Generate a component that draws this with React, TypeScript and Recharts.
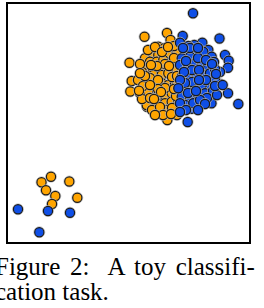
import { ReferenceArea, Scatter, ScatterChart, XAxis, YAxis } from "recharts";

// toy classification: two classes, big overlapping blob top-right + small group bottom-left
const orangeX = [
  34.5, 44, 62.3, 39, 48.3, 70.3, 45,
  137.5, 160, 163.5, 122.5, 124.7, 131, 123.3, 140, 153, 160.3, 170, 160.7,
  151.3, 157.3, 144.7, 151.3, 163, 169.7, 138, 143, 149.7, 156.3, 164.7, 171.3,
  139.7, 146.3, 154.7, 163, 169.7, 133, 139.7, 146.3, 154.7, 161.3, 148, 154.7,
  161.3, 168, 141.3, 151.3, 158, 164.7, 171.3, 139.7, 149.7, 158, 164.7, 171.3,
  159.7, 169.7, 135, 133, 141, 148, 155, 167, 161, 136, 143, 151, 165, 170,
  135, 143, 145, 153, 165, 169, 158, 151, 143, 158, 150, 144, 167, 162, 154,
  147, 138, 167, 156, 164, 148, 132, 133,
];
const orangeY = [
  60.7, 66.3, 61.5, 52.7, 47, 45.3, 39,
  206.3, 210, 203, 180.3, 162, 163, 151.5, 136.3, 129.3, 123, 128, 133.7,
  196.3, 194.7, 189.7, 188, 188, 191.3, 184.7, 181.3, 181.3, 183, 181.3, 179.7,
  174.7, 173, 174.7, 173, 173, 149.7, 161.3, 168, 168, 169.7, 158, 159.7,
  158, 159.7, 151.3, 148, 148, 149.7, 153, 138, 139.7, 139.7, 141.3, 141.3,
  133, 161.3, 171, 179, 193, 196, 191, 197, 196, 157, 165, 163, 166, 167,
  144, 145, 133, 136, 135, 147, 155, 154, 158, 179, 177, 178, 185, 177, 151,
  144, 167, 154, 128, 129, 128, 152.3, 169.7,
];

const blueX = [
  11, 41, 63, 32.3,
  186, 212.5, 195.3, 218, 221.7, 221, 213, 201.3, 213, 221, 231.3, 204.5,
  203.3, 191.8, 184.7, 180.7, 175.7, 187.3, 173, 181.3, 178, 188, 196.3,
  204.7, 183, 174.7, 176.3, 175.3, 176.3, 173, 181.3, 188, 194.7, 201.3,
  174.7, 181.3, 189.7, 196.3, 203, 208, 203, 179.7, 188, 194.7, 174.7, 183,
  191.3, 198, 178, 186.3, 173, 208, 191, 199, 207, 179, 185, 192, 199, 185,
  178, 192, 206, 200, 193, 181, 189, 177, 173, 205, 209, 183, 191, 176, 210,
  198, 179, 191, 208, 215.7, 173, 171.3,
];
const blueY = [
  33.7, 32, 30.3, 10.8,
  229.7, 204.5, 200.3, 188, 182.3, 175.3, 171, 193, 159, 149.7, 139, 139.7,
  153.7, 138.8, 134.3, 121, 207, 198, 200.3, 197, 190.3, 189.7, 191.3,
  186.3, 186.3, 184.7, 174.7, 151.3, 141.3, 178, 176.3, 179.7, 178, 176.3,
  166.3, 164.7, 168, 168, 169.7, 163, 154.7, 154.7, 156.3, 158, 146.3, 144.7,
  148, 149.7, 138, 139.7, 139.7, 174, 185, 183, 181, 182, 173, 173, 163, 161,
  160, 163, 152, 145, 143, 150, 152, 171, 163, 179, 169, 195, 195, 195, 148,
  139, 133, 133, 157, 158, 131, 154.7,
];

const captionLines = ["Figure 2:  A toy classifi-", "cation task."];

const orangePts = orangeX.map((x, i) => ({ x, y: orangeY[i] }));
const bluePts = blueX.map((x, i) => ({ x, y: blueY[i] }));

const dot = (color: string) => (p: any) => (
  <g>
    <circle cx={p.cx} cy={p.cy} r={5.5} fill="none" stroke="#b8b8b8" strokeWidth={0.8} />
    <circle cx={p.cx} cy={p.cy} r={4.6} fill={color} stroke="#1a1a1a" strokeWidth={1.2} />
  </g>
);

const capStyle = {
  position: "absolute" as const,
  left: -5,
  fontFamily: "'Liberation Serif', serif",
  fontSize: 25,
  lineHeight: "24px",
  whiteSpace: "pre" as const,
  color: "#000",
};

export default function App() {
  return (
    <div
      style={{
        position: "absolute",
        left: 0,
        top: 0,
        width: 264,
        height: 308,
        overflow: "hidden",
        background: "#fff",
      }}
    >
      <ScatterChart width={264} height={250} margin={{ top: 3, right: 14, bottom: 7, left: 7 }}>
        <XAxis type="number" dataKey="x" domain={[0, 243]} hide />
        <YAxis type="number" dataKey="y" domain={[0, 240]} hide />
        <Scatter data={orangePts} shape={dot("#ffa500")} isAnimationActive={false} />
        <Scatter data={bluePts} shape={dot("#0f4fe6")} isAnimationActive={false} />
        <ReferenceArea x1={0} x2={243} y1={0} y2={240} fill="none" stroke="#000" strokeWidth={2} />
      </ScatterChart>
      {/* justified first line: slightly wider word gaps */}
      <div style={{ ...capStyle, top: 255, wordSpacing: 3.5 }}>{captionLines[0]}</div>
      <div style={{ ...capStyle, top: 280 }}>{captionLines[1]}</div>
    </div>
  );
}
